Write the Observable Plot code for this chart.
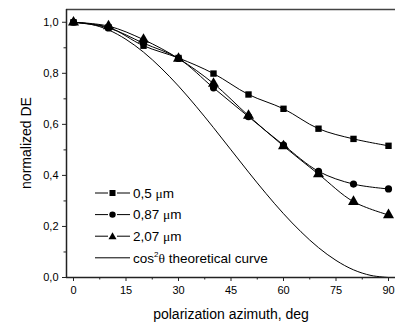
<!DOCTYPE html>
<html><head><meta charset="utf-8">
<script src="https://cdn.jsdelivr.net/npm/d3@7"></script>
<script src="https://cdn.jsdelivr.net/npm/@observablehq/plot@0.6"></script>
<style>
body{margin:0;background:#fff}
#c{position:relative;width:395px;height:325px;font-family:Arial,"Liberation Sans",sans-serif;color:#000;overflow:hidden}
#c svg{display:block}
.t{position:absolute;white-space:nowrap}
#leg{position:absolute;left:0;top:0}
</style>
</head><body><div id="c"></div>
<script>
const angles = [0, 10, 20, 30, 40, 50, 60, 70, 80, 90];
const de05  = [1.0, 0.98, 0.908, 0.86, 0.799, 0.717, 0.661, 0.583, 0.543, 0.516];
const de087 = [1.0, 0.978, 0.918, 0.858, 0.743, 0.630, 0.519, 0.416, 0.366, 0.347];
const de207 = [1.0, 0.985, 0.932, 0.858, 0.760, 0.634, 0.515, 0.405, 0.297, 0.245];
const theoryAngles = [0, 5, 10, 15, 20, 25, 30, 35, 40, 45, 50, 55, 60, 65, 70, 75, 80, 85, 90];
const theoryDE = [1.0, 0.992, 0.970, 0.933, 0.883, 0.821, 0.750, 0.671, 0.587, 0.500, 0.413, 0.329, 0.250, 0.179, 0.117, 0.067, 0.030, 0.008, 0.0];
const seriesNames = ["0,5 \u03bcm", "0,87 \u03bcm", "2,07 \u03bcm"];
const seriesSymbols = ["square", "circle", "triangle"];
const xTicks = [0, 15, 30, 45, 60, 75, 90];
const xMinor = [7.5, 22.5, 37.5, 52.5, 67.5, 82.5];
const yTicks = [0, 0.2, 0.4, 0.6, 0.8, 1.0];
const yMinor = [0.1, 0.3, 0.5, 0.7, 0.9];

const seriesValues = [de05, de087, de207];
const rows = [];
seriesValues.forEach((vals, i) => vals.forEach((v, j) => rows.push({s: seriesNames[i], sym: seriesSymbols[i], a: angles[j], v})));
const theory = theoryAngles.map((a, i) => ({a, v: theoryDE[i]}));
const markerR = {square: 3.6, circle: 3.6, triangle: 4.1};

const fmt = d => d.toFixed(1).replace(".", ",");
const chart = Plot.plot({
  width: 395, height: 325,
  marginLeft: 66, marginRight: 0, marginTop: 9, marginBottom: 48,
  style: {fontFamily: 'Arial, "Liberation Sans", sans-serif', background: "#fff"},
  x: {domain: [-2, 92]},
  y: {domain: [0, 1.05]},
  symbol: {domain: seriesSymbols, range: seriesSymbols},
  marks: [
    Plot.line(theory, {x: "a", y: "v", curve: "catmull-rom", stroke: "#000", strokeWidth: 1}),
    Plot.line(rows, {x: "a", y: "v", z: "s", curve: "catmull-rom", stroke: "#000", strokeWidth: 1}),
    ...seriesSymbols.map(sym => Plot.dot(rows.filter(d => d.sym === sym), {x: "a", y: "v", symbol: "sym", fill: "#000", stroke: "none", r: markerR[sym]})),
    Plot.axisY({ticks: yTicks, tickSize: 4, tickPadding: 4, tickFormat: fmt, fontSize: 11, label: null, stroke: "#222"}),
    Plot.axisY({ticks: yMinor, tickSize: 2.5, tickFormat: () => "", label: null, stroke: "#222"}),
    Plot.axisX({ticks: xTicks, tickSize: 4, tickPadding: 5, fontSize: 11, label: null, stroke: "#222"}),
    Plot.axisX({ticks: xMinor, tickSize: 2.5, tickFormat: () => "", label: null, stroke: "#222"}),
    Plot.ruleY([0], {stroke: "#222", strokeWidth: 1.5}),
    Plot.ruleY([1.05], {stroke: "#444", strokeWidth: 1.5}),
    Plot.ruleX([-2], {stroke: "#222", strokeWidth: 1.5})
  ]
});
const c = document.getElementById("c");
c.appendChild(chart);

const yt = document.createElement("div");
yt.className = "t";
yt.textContent = "normalized DE";
yt.style.cssText = "font-size:14px;left:26px;top:143px;transform:translate(-50%,-50%) rotate(-90deg)";
c.appendChild(yt);

const xt = document.createElement("div");
xt.className = "t";
xt.textContent = "polarization azimuth, deg";
xt.style.cssText = "font-size:14px;left:231px;top:314px;transform:translate(-50%,-50%)";
c.appendChild(xt);

// legend (single SVG overlay)
const NS = "http://www.w3.org/2000/svg";
const leg = document.createElementNS(NS, "svg");
leg.setAttribute("id", "leg");
leg.setAttribute("width", 395);
leg.setAttribute("height", 325);
const lx0 = 95, lx1 = 130, mx = 112.5, tx = 133;
const rowY = [193, 214.6, 236.2, 257.8];
const serif = '"Liberation Serif","DejaVu Serif",serif';
let html = "";
seriesNames.forEach((name, i) => {
  const y = rowY[i];
  html += `<line x1="${lx0}" x2="${mx - 4.5}" y1="${y}" y2="${y}" stroke="#000"/>`;
  html += `<line x1="${mx + 4.5}" x2="${lx1}" y1="${y}" y2="${y}" stroke="#000"/>`;
  const s = seriesSymbols[i];
  if (s === "square") html += `<rect x="${mx - 3}" y="${y - 3}" width="6" height="6" fill="#000"/>`;
  else if (s === "circle") html += `<circle cx="${mx}" cy="${y}" r="3.2" fill="#000"/>`;
  else html += `<path d="M${mx} ${y - 4} L${mx + 4} ${y + 3} L${mx - 4} ${y + 3} Z" fill="#000"/>`;
  const [num] = name.split(" ");
  html += `<text x="${tx}" y="${y}" dy="0.36em" font-size="13.5" font-family='Arial, "Liberation Sans", sans-serif'>${num} <tspan font-family='${serif}'>\u03bc</tspan>m</text>`;
});
{
  const y = rowY[3];
  html += `<line x1="${lx0}" x2="${lx1}" y1="${y}" y2="${y}" stroke="#000"/>`;
  html += `<text x="${tx}" y="${y}" dy="0.36em" font-size="13.5" font-family='Arial, "Liberation Sans", sans-serif'>cos<tspan font-size="8" dy="-6">2</tspan><tspan font-family='${serif}' dy="6">\u03b8</tspan> theoretical curve</text>`;
}
leg.innerHTML = html;
c.appendChild(leg);
</script>
</body></html>
